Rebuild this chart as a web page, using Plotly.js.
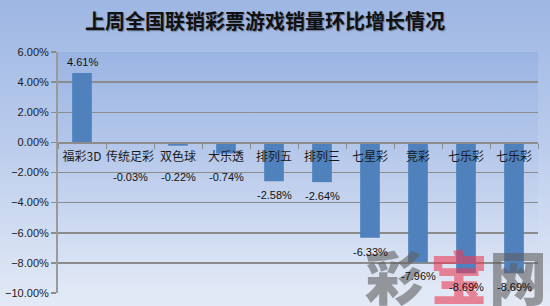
<!DOCTYPE html>
<html>
<head>
<meta charset="utf-8">
<script src="https://cdn.plot.ly/plotly-3.0.1.min.js"></script>
<style>
  html, body { margin: 0; padding: 0; }
  #chart {
    width: 550px; height: 306px;
    background: linear-gradient(to bottom, #9db6e3 0%, #b9cbec 45%, #e3eaf6 100%);
  }
</style>
</head>
<body>
<div id="chart"></div>
<script>
// ---- data ----
const categories = ["福彩3D", "传统足彩", "双色球", "大乐透", "排列五", "排列三", "七星彩", "竞彩", "七乐彩", "七乐彩"];
const growth = [0.0461, -0.0003, -0.0022, -0.0074, -0.0258, -0.0264, -0.0633, -0.0796, -0.0869, -0.0869];
const yTicks = [0.06, 0.04, 0.02, 0, -0.02, -0.04, -0.06, -0.08, -0.10];
const titleText = "上周全国联销彩票游戏销量环比增长情况";
const watermark = ["彩", "宝", "网"];

const yMin = -0.10, yMax = 0.06;
const idx = categories.map((_, i) => i);

const plotGrad = '<svg xmlns="http://www.w3.org/2000/svg" width="100" height="100" viewBox="0 0 100 100" preserveAspectRatio="none">' +
  '<defs><linearGradient id="g" x1="0" y1="0" x2="0" y2="1">' +
  '<stop offset="0" stop-color="#9ab4e2"/><stop offset="0.5" stop-color="#bccdec"/><stop offset="1" stop-color="#e2e9f6"/>' +
  '</linearGradient></defs><rect width="100" height="100" fill="url(#g)"/></svg>';

const bar = {
  type: 'bar',
  x: idx,
  y: growth,
  marker: { color: '#4f81bd', line: { width: 0 } },
  hoverinfo: 'skip'
};

const labelFont = { family: 'Liberation Sans, Arial, sans-serif', size: 11, color: '#111111' };

const annotations = [];
const wmColors = ['rgba(95,95,95,0.6)', 'rgba(235,60,85,0.6)', 'rgba(95,95,95,0.6)'];
const wmX = [0.70, 0.835, 0.958];
watermark.forEach((ch, i) => {
  annotations.push({
    x: wmX[i], y: 0.075, xref: 'paper', yref: 'paper',
    text: ch, showarrow: false, xanchor: 'center', yanchor: 'middle',
    font: { family: 'Noto Sans CJK SC, sans-serif', size: 58, weight: 900, color: wmColors[i] }
  });
});

growth.forEach((v, i) => {
  annotations.push({
    x: i,
    y: v >= 0 ? v : Math.min(v, -0.0134),
    xref: 'x', yref: 'y',
    text: (v * 100).toFixed(2) + '%',
    showarrow: false,
    yanchor: 'middle',
    yshift: v >= 0 ? 11 : -14,
    font: labelFont
  });
});

const layout = {
  width: 550, height: 306,
  margin: { l: 58, r: 12, t: 52, b: 13, pad: 0 },
  paper_bgcolor: 'rgba(0,0,0,0)',
  plot_bgcolor: 'rgba(0,0,0,0)',
  showlegend: false,
  bargap: 0.59,
  title: {
    text: titleText,
    x: 265 / 550, xanchor: 'center', xref: 'container',
    y: 1 - 22 / 306, yanchor: 'middle', yref: 'container',
    font: { family: 'Noto Sans CJK SC, sans-serif', size: 20, weight: 'bold', color: '#111111',
            shadow: '1px 1px 1px rgba(0,0,0,0.35)' }
  },
  xaxis: {
    range: [-0.5, categories.length - 0.5],
    tickmode: 'array', tickvals: idx, ticktext: categories,
    ticks: '', ticklabelstandoff: 3,
    tickfont: { family: 'Noto Sans CJK SC, sans-serif', size: 12, color: '#1a1a1a' },
    showgrid: false, zeroline: false,
    showline: true, linecolor: '#8c8c8c', linewidth: 1.5,
    anchor: 'free', position: (0 - yMin) / (yMax - yMin),
    minor: { tickmode: 'linear', tick0: -0.5, dtick: 1, ticks: 'outside', ticklen: 5, tickcolor: '#8c8c8c', tickwidth: 1, showgrid: false },
    fixedrange: true
  },
  yaxis: {
    range: [yMin, yMax],
    tickmode: 'array', tickvals: yTicks,
    tickformat: '.2%',
    ticks: 'outside', ticklen: 5, tickcolor: '#8c8c8c', tickwidth: 1.5,
    tickfont: { family: 'Liberation Sans, Arial, sans-serif', size: 11, color: '#1a1a1a' },
    showgrid: true, gridcolor: '#8c8c8c', gridwidth: 1.5,
    zeroline: false,
    showline: true, linecolor: '#9a9a9a', linewidth: 2,
    fixedrange: true
  },
  images: [{
    source: 'data:image/svg+xml;utf8,' + encodeURIComponent(plotGrad),
    xref: 'paper', yref: 'paper', x: 0, y: 1, sizex: 1, sizey: 1,
    xanchor: 'left', yanchor: 'top', sizing: 'stretch', layer: 'below'
  }],
  annotations: annotations
};

Plotly.newPlot('chart', [bar], layout, { displayModeBar: false, staticPlot: true });
</script>
</body>
</html>
